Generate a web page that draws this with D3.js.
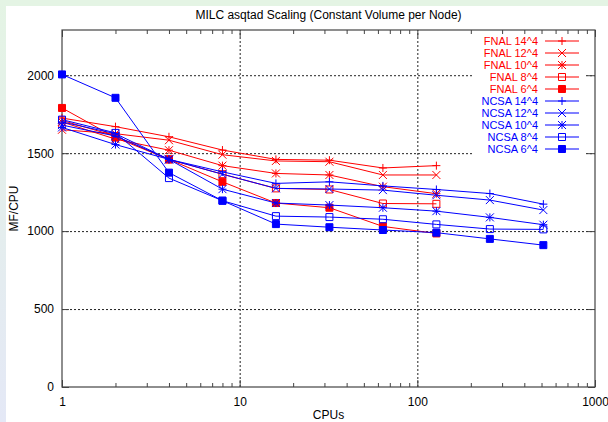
<!DOCTYPE html>
<html>
<head>
<meta charset="utf-8">
<script src="https://cdn.jsdelivr.net/npm/d3@7"></script>
<style>
  body { margin: 0; background: #fff; }
  svg { display: block; font-family: 'Liberation Sans', Arial, sans-serif; }
  .axis path { display: none; }
  .axis text { font-size: 12px; fill: #000; }
  .grid line { stroke: #222; stroke-dasharray: 2,2; stroke-width: 1; }
  .grid path, .grid text { display: none; }
</style>
</head>
<body>
<div id="chart"></div>
<script>
// data
const cpus = [1, 2, 4, 8, 16, 32, 64, 128, 256, 512]
const fnal14 = [1725, 1670, 1605, 1520, 1460, 1455, 1405, 1420]
const fnal12 = [1650, 1625, 1583, 1490, 1450, 1445, 1360, 1360]
const fnal10 = [1700, 1590, 1519, 1420, 1370, 1360, 1285, 1240]
const fnal8 = [1710, 1610, 1460, 1365, 1274, 1267, 1177, 1175]
const fnal6 = [1790, 1600, 1460, 1316, 1180, 1150, 1030, 985]
const ncsa14 = [1700, 1625, 1460, 1380, 1306, 1316, 1290, 1267, 1241, 1173]
const ncsa12 = [1680, 1610, 1460, 1365, 1274, 1270, 1263, 1230, 1199, 1135]
const ncsa10 = [1665, 1555, 1460, 1269, 1180, 1167, 1150, 1128, 1088, 1041]
const ncsa8 = [1715, 1630, 1340, 1195, 1096, 1090, 1076, 1043, 1013, 1011]
const ncsa6 = [2005, 1855, 1375, 1195, 1045, 1025, 1007, 990, 950, 910]

const seriesNames = ['FNAL 14^4', 'FNAL 12^4', 'FNAL 10^4', 'FNAL 8^4', 'FNAL 6^4',
  'NCSA 14^4', 'NCSA 12^4', 'NCSA 10^4', 'NCSA 8^4', 'NCSA 6^4']
const seriesValues = [fnal14, fnal12, fnal10, fnal8, fnal6, ncsa14, ncsa12, ncsa10, ncsa8, ncsa6]
const markerTypes = ['plus', 'cross', 'star', 'box', 'filled', 'plus', 'cross', 'star', 'box', 'filled']

const xMajor = [1, 10, 100, 1000]
const yTicks = [0, 500, 1000, 1500, 2000]

// dimension stuff
const W = 608
const H = 422
const marginLeft = 62
const plotRight = 595
const marginTop = 30
const plotBottom = 387
const red = '#ff0000'
const blue = '#0000ff'

const series = seriesNames.map((name, i) => ({
  name,
  color: name.startsWith('FNAL') ? red : blue,
  marker: markerTypes[i],
  points: seriesValues[i].map((v, j) => ({ x: cpus[j], y: v }))
}))

// scales
const scaleX = d3.scaleLog().domain([1, 1000]).range([marginLeft, plotRight])
const scaleY = d3.scaleLinear().domain([0, 2290]).range([plotBottom, marginTop])

const xMinor = []
for (let k = 0; k < 3; k++) for (let m = 2; m <= 9; m++) xMinor.push(m * Math.pow(10, k))

const $svg = d3.select('#chart').append('svg').attr('width', W).attr('height', H)

// page border like the source screenshot
const defs = $svg.append('defs')
const grad = defs.append('linearGradient').attr('id', 'edge').attr('x1', 0).attr('y1', 0).attr('x2', 0).attr('y2', 1)
grad.append('stop').attr('offset', '0%').attr('stop-color', '#e4f4e4')
grad.append('stop').attr('offset', '100%').attr('stop-color', '#e4e8f6')
$svg.append('rect').attr('x', 0).attr('y', 0).attr('width', W).attr('height', 6).attr('fill', '#e4f4e4')
$svg.append('rect').attr('x', 0).attr('y', 0).attr('width', 6).attr('height', H).attr('fill', 'url(#edge)')

// grid
$svg.append('g').attr('class', 'grid')
  .attr('transform', `translate(0, ${plotBottom})`)
  .call(d3.axisBottom(scaleX).tickValues([10, 100]).tickSize(-(plotBottom - marginTop)).tickFormat(''))
$svg.append('g').attr('class', 'grid')
  .attr('transform', `translate(${marginLeft}, 0)`)
  .call(d3.axisLeft(scaleY).tickValues(yTicks.slice(1)).tickSize(-(plotRight - marginLeft)).tickFormat(''))

// legend box blanks the grid behind it
const legendTextX = 538
const legendX0 = 545
const legendX1 = 579
const legendY0 = 41
const legendStep = 12
$svg.append('rect')
  .attr('x', 474).attr('y', 34)
  .attr('width', 112).attr('height', 122)
  .attr('fill', '#fff')

// axes, ticks pointing inward
const tickStroke = g => g.selectAll('line').attr('stroke', '#444')
$svg.append('g').attr('class', 'axis')
  .attr('transform', `translate(0, ${plotBottom})`)
  .call(d3.axisBottom(scaleX).tickValues(xMajor).tickSize(-7).tickPadding(10).tickFormat(d3.format('d')))
  .call(tickStroke)
$svg.append('g').attr('class', 'axis')
  .attr('transform', `translate(0, ${plotBottom})`)
  .call(d3.axisBottom(scaleX).tickValues(xMinor).tickSize(-4).tickFormat(''))
  .call(tickStroke)
$svg.append('g').attr('class', 'axis')
  .attr('transform', `translate(0, ${marginTop})`)
  .call(d3.axisTop(scaleX).tickValues(xMajor).tickSize(-7).tickFormat(''))
  .call(tickStroke)
$svg.append('g').attr('class', 'axis')
  .attr('transform', `translate(0, ${marginTop})`)
  .call(d3.axisTop(scaleX).tickValues(xMinor).tickSize(-4).tickFormat(''))
  .call(tickStroke)
$svg.append('g').attr('class', 'axis')
  .attr('transform', `translate(${marginLeft}, 0)`)
  .call(d3.axisLeft(scaleY).tickValues(yTicks).tickSize(-7).tickPadding(8).tickFormat(d3.format('d')))
  .call(tickStroke)
$svg.append('g').attr('class', 'axis')
  .attr('transform', `translate(${plotRight}, 0)`)
  .call(d3.axisRight(scaleY).tickValues(yTicks).tickSize(-7).tickFormat(''))
  .call(tickStroke)

// frame
$svg.append('rect')
  .attr('x', marginLeft).attr('y', marginTop)
  .attr('width', plotRight - marginLeft).attr('height', plotBottom - marginTop)
  .attr('fill', 'none').attr('stroke', '#444').attr('stroke-width', 1.2)

// markers
function markerPath(type, s) {
  if (type === 'plus') return `M${-s},0H${s}M0,${-s}V${s}`
  if (type === 'cross') return `M${-s},${-s}L${s},${s}M${-s},${s}L${s},${-s}`
  if (type === 'star') return `M${-s},0H${s}M0,${-s}V${s}M${-s},${-s}L${s},${s}M${-s},${s}L${s},${-s}`
  return `M${-s},${-s}H${s}V${s}H${-s}Z`
}
function drawMarker(g, d, x, y) {
  g.append('path')
    .attr('d', markerPath(d.marker, d.marker === 'box' || d.marker === 'filled' ? 3.5 : 4))
    .attr('transform', `translate(${x}, ${y})`)
    .attr('stroke', d.color)
    .attr('stroke-width', 1)
    .attr('fill', d.marker === 'filled' ? d.color : 'none')
}

const line = d3.line().x(d => scaleX(d.x)).y(d => scaleY(d.y))

const $vis = $svg.append('g').attr('class', 'g-vis')
series.forEach(d => {
  const g = $vis.append('g')
  g.append('path')
    .attr('d', line(d.points))
    .attr('fill', 'none')
    .attr('stroke', d.color)
    .attr('stroke-width', 1)
  d.points.forEach(p => drawMarker(g, d, scaleX(p.x), scaleY(p.y)))
})

// legend
const $legend = $svg.append('g').attr('class', 'legend')
series.forEach((d, i) => {
  const y = legendY0 + i * legendStep
  const g = $legend.append('g')
  g.append('text')
    .attr('x', legendTextX).attr('y', y + 4)
    .attr('text-anchor', 'end')
    .style('font-size', '11px')
    .attr('fill', d.color)
    .text(d.name)
  g.append('line')
    .attr('x1', legendX0).attr('x2', legendX1)
    .attr('y1', y).attr('y2', y)
    .attr('stroke', d.color)
  drawMarker(g, d, (legendX0 + legendX1) / 2, y)
})

// titles
$svg.append('text')
  .attr('x', (marginLeft + plotRight) / 2).attr('y', 19)
  .attr('text-anchor', 'middle')
  .style('font-size', '12px')
  .text('MILC asqtad Scaling (Constant Volume per Node)')
$svg.append('text')
  .attr('x', (marginLeft + plotRight) / 2).attr('y', 419)
  .attr('text-anchor', 'middle')
  .style('font-size', '12px')
  .text('CPUs')
$svg.append('text')
  .attr('transform', `translate(18, ${(marginTop + plotBottom) / 2}) rotate(-90)`)
  .attr('text-anchor', 'middle')
  .style('font-size', '12px')
  .text('MF/CPU')
</script>
</body>
</html>
